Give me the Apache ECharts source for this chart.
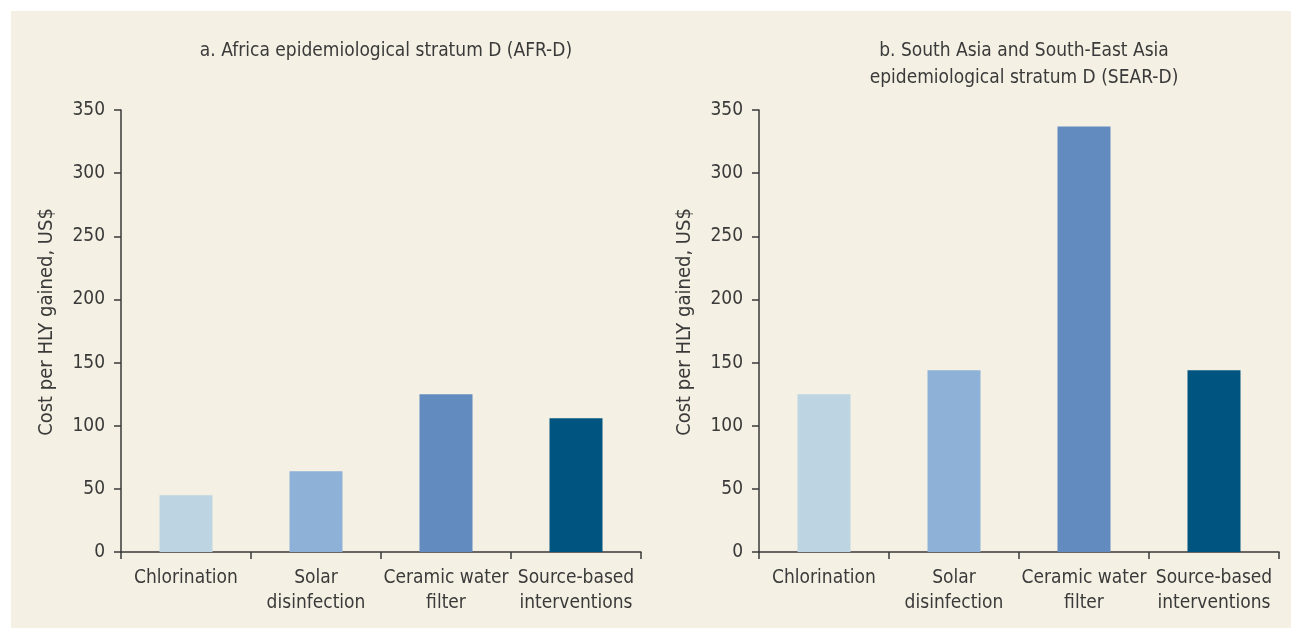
<!DOCTYPE html>
<html>
<head>
<meta charset="utf-8">
<script src="https://cdn.jsdelivr.net/npm/echarts@6/dist/echarts.min.js"></script>
<style>
  html, body { margin: 0; padding: 0; background: #ffffff; }
  #panel { position: absolute; left: 11px; top: 11px; width: 1280px; height: 617px; background: #f4f0e3; }
  #chart { position: absolute; left: 0; top: 0; width: 1291px; height: 628px; }
</style>
</head>
<body>
<div id="panel"></div>
<div id="chart"></div>
<script>
// Intervention categories (shared by both panels)
const categories = ['Chlorination', 'Solar\ndisinfection', 'Ceramic water\nfilter', 'Source-based\ninterventions'];
// Cost per healthy life year gained, US$
const afrValues = [45, 64, 125, 106];
const searValues = [125, 144, 337, 144];
// Bar colour for each intervention
const barColors = ['#bdd5e2', '#8db1d7', '#628cbf', '#005580'];
const panelTitles = [
  'a. Africa epidemiological stratum D (AFR-D)',
  'b. South Asia and South-East Asia\nepidemiological stratum D (SEAR-D)'
];
const yAxisName = 'Cost per HLY gained, US$';

const FONT = "'Liberation Sans Narrow', 'DejaVu Sans Condensed', sans-serif";
const TEXT = '#3a3a3a';
const AXIS = '#3a3a3a';

const grids = [
  { left: 121, top: 110, width: 520, height: 442 },
  { left: 759, top: 110, width: 520, height: 442 }
];

function xAxis(i) {
  return {
    type: 'category', gridIndex: i, data: categories,
    axisLine: { lineStyle: { color: AXIS, width: 1.5 } },
    axisTick: { show: true, length: 7, lineStyle: { color: AXIS, width: 1.5 } },
    axisLabel: { color: TEXT, fontFamily: FONT, fontSize: 19, lineHeight: 25, margin: 14, interval: 0 }
  };
}
function yAxis(i) {
  return {
    type: 'value', gridIndex: i, min: 0, max: 350, interval: 50,
    name: yAxisName, nameLocation: 'middle', nameGap: 64, nameRotate: 90,
    nameTextStyle: { color: TEXT, fontFamily: FONT, fontSize: 20, padding: [0, 0, 0, 18] },
    axisLine: { show: true, lineStyle: { color: AXIS, width: 1.5 } },
    axisTick: { show: true, length: 7, lineStyle: { color: AXIS, width: 1.5 } },
    axisLabel: { color: TEXT, fontFamily: FONT, fontSize: 19, margin: 16 },
    splitLine: { show: false }
  };
}
function series(i, values) {
  return {
    type: 'bar', xAxisIndex: i, yAxisIndex: i, barWidth: 53,
    data: values.map((v, k) => ({ value: v, itemStyle: { color: barColors[k] } }))
  };
}

const chart = echarts.init(document.getElementById('chart'));
chart.setOption({
  backgroundColor: 'transparent',
  animation: false,
  title: [
    { text: panelTitles[0], left: 381, top: 33, textAlign: 'center',
      textStyle: { color: TEXT, fontFamily: FONT, fontSize: 19, fontWeight: 'normal', lineHeight: 27 } },
    { text: panelTitles[1], left: 1019, top: 33, textAlign: 'center',
      textStyle: { color: TEXT, fontFamily: FONT, fontSize: 19, fontWeight: 'normal', lineHeight: 27 } }
  ],
  grid: grids,
  xAxis: [xAxis(0), xAxis(1)],
  yAxis: [yAxis(0), yAxis(1)],
  series: [series(0, afrValues), series(1, searValues)]
});
</script>
</body>
</html>
